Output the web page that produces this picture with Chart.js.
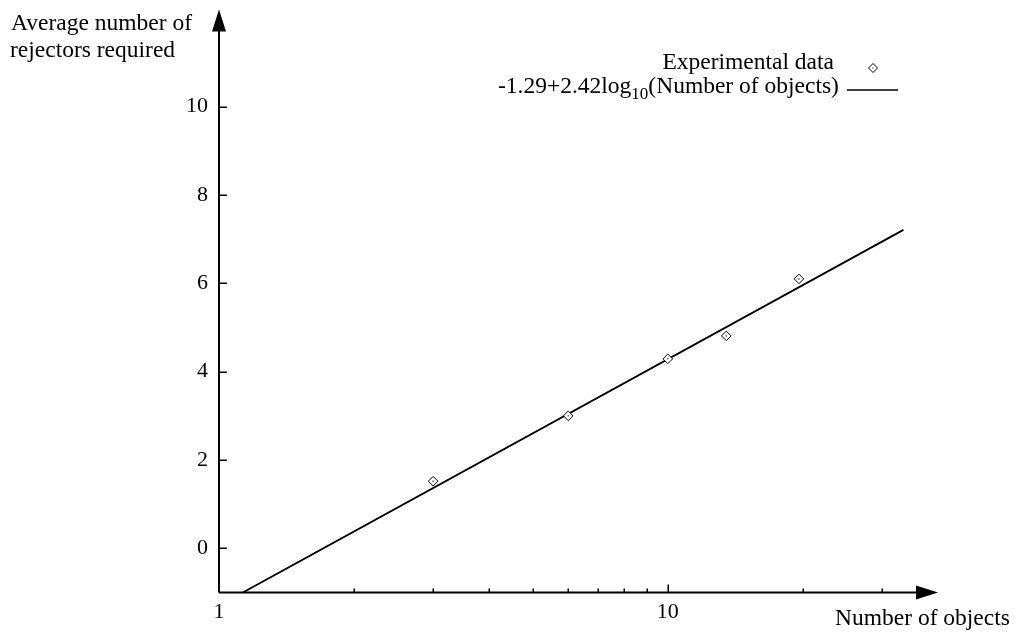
<!DOCTYPE html>
<html><head><meta charset="utf-8">
<script src="https://cdn.jsdelivr.net/npm/chart.js@4/dist/chart.umd.min.js"></script>
<style>html,body{margin:0;padding:0;background:#fff;}#wrap{width:1016px;height:632px;position:relative;}</style>
</head><body><div id="wrap"><canvas id="c" width="1016" height="632"></canvas></div>
<script>
// ---- data ----
const objectCounts = [3, 6, 10, 13.5, 19.6];
const rejectorsRequired = [1.52, 3.0, 4.29, 4.81, 6.1];
const fitX = [1.13, 33.5];
const fitY = [-1.0, 7.21];
const xTickValues = [1, 2, 3, 4, 5, 6, 7, 8, 9, 10, 20, 30];
const xLabelValues = [1, 10];
const yTickValues = [0, 2, 4, 6, 8, 10];
const seriesLabels = ['Experimental data', '-1.29+2.42log', '10', '(Number of objects)'];
const xTitle = 'Number of objects';
const yTitleLines = ['Average number of', 'rejectors required'];

const FONT = '"Liberation Serif", "Times New Roman", serif';
const pts = objectCounts.map((x, i) => ({x: x, y: rejectorsRequired[i]}));
const fitPts = fitX.map((x, i) => ({x: x, y: fitY[i]}));

const decor = {
  id: 'decor',
  beforeDatasetsDraw(chart) {
    const ctx = chart.ctx, ca = chart.chartArea, xs = chart.scales.x, ys = chart.scales.y;
    const x0 = xs.getPixelForValue(1), y0 = ys.getPixelForValue(-1);
    ctx.save();
    ctx.strokeStyle = '#000'; ctx.fillStyle = '#000';
    ctx.lineWidth = 2;
    ctx.beginPath();
    ctx.moveTo(x0, y0); ctx.lineTo(x0, ca.top + 18);
    ctx.moveTo(x0, y0); ctx.lineTo(ca.right - 18, y0);
    ctx.stroke();
    // arrows
    ctx.beginPath();
    ctx.moveTo(x0, ca.top); ctx.lineTo(x0 - 7, ca.top + 22); ctx.lineTo(x0 + 7, ca.top + 22); ctx.closePath(); ctx.fill();
    ctx.beginPath();
    ctx.moveTo(ca.right, y0); ctx.lineTo(ca.right - 22, y0 - 7); ctx.lineTo(ca.right - 22, y0 + 7); ctx.closePath(); ctx.fill();
    // ticks
    ctx.lineWidth = 1.5;
    ctx.beginPath();
    yTickValues.forEach(v => { const p = Math.round(ys.getPixelForValue(v)) + 0.25; ctx.moveTo(x0, p); ctx.lineTo(x0 + 8, p); });
    xTickValues.forEach(v => {
      if (v === 1) return;
      const p = Math.round(xs.getPixelForValue(v)) + 0.25;
      const len = xLabelValues.includes(v) ? 8 : 4;
      ctx.moveTo(p, y0); ctx.lineTo(p, y0 - len);
    });
    ctx.stroke();
    ctx.restore();
  },
  afterDraw(chart) {
    const ctx = chart.ctx;
    ctx.save();
    ctx.fillStyle = '#000'; ctx.strokeStyle = '#000';
    ctx.font = '23.5px ' + FONT;
    ctx.textBaseline = 'alphabetic';
    ctx.textAlign = 'left';
    ctx.fillText(yTitleLines[0], 11, 30);
    ctx.fillText(yTitleLines[1], 10, 57);
    ctx.fillText(xTitle, 835, 625);
    // legend
    ctx.textAlign = 'right';
    ctx.fillText(seriesLabels[0], 834, 69);
    ctx.lineWidth = 1;
    ctx.fillStyle = '#fff';
    ctx.beginPath();
    ctx.moveTo(873, 63.5); ctx.lineTo(877.5, 68); ctx.lineTo(873, 72.5); ctx.lineTo(868.5, 68); ctx.closePath();
    ctx.fill(); ctx.stroke();
    ctx.fillStyle = '#000';
    ctx.fillRect(872.5, 67.5, 1, 1);
    ctx.textAlign = 'left';
    let x = 498;
    ctx.fillText(seriesLabels[1], x, 93);
    x += ctx.measureText(seriesLabels[1]).width;
    ctx.font = '17px ' + FONT;
    ctx.fillText(seriesLabels[2], x, 99);
    x += ctx.measureText(seriesLabels[2]).width;
    ctx.font = '23.5px ' + FONT;
    ctx.fillText(seriesLabels[3], x, 93);
    ctx.lineWidth = 1.6;
    ctx.beginPath(); ctx.moveTo(847, 90); ctx.lineTo(898, 90); ctx.stroke();
    ctx.restore();
  }
};

new Chart(document.getElementById('c'), {
  type: 'scatter',
  data: {
    datasets: [
      {label: 'centres', data: pts, pointStyle: 'circle', pointRadius: 0.7, backgroundColor: '#000', borderWidth: 0, order: 0},
      {label: seriesLabels[0], data: pts, pointStyle: 'rectRot', pointRadius: 4.8, borderColor: '#000', backgroundColor: '#fff', borderWidth: 1, order: 1},
      {label: 'fit', data: fitPts, showLine: true, pointRadius: 0, borderColor: '#000', borderWidth: 1.8, fill: false, order: 2}
    ]
  },
  options: {
    responsive: false,
    animation: false,
    devicePixelRatio: 1,
    layout: {padding: {left: 0, right: 78, top: 9.5, bottom: 0}},
    plugins: {legend: {display: false}, tooltip: {enabled: false}},
    scales: {
      x: {
        type: 'logarithmic', min: 1, max: 40, position: 'bottom',
        afterBuildTicks: s => { s.ticks = xTickValues.map(v => ({value: v, major: xLabelValues.includes(v)})); },
        ticks: {autoSkip: false, maxRotation: 0, minRotation: 0, color: '#000', padding: 7,
          font: {family: FONT, size: 22},
          callback: v => xLabelValues.includes(v) ? String(v) : ''},
        grid: {display: false, drawTicks: false}, border: {display: false},
        afterFit: s => { s.height = 39.5; s.paddingLeft = 0; s.paddingRight = 0; }
      },
      y: {
        type: 'linear', min: -1, max: 12.2,
        afterBuildTicks: s => { s.ticks = yTickValues.map(v => ({value: v})); },
        ticks: {color: '#000', padding: 11, font: {family: FONT, size: 22}},
        grid: {display: false, drawTicks: false}, border: {display: false},
        afterFit: s => { s.width = 219; s.paddingTop = 0; s.paddingBottom = 0; }
      }
    }
  },
  plugins: [decor]
});
</script>
</body></html>
